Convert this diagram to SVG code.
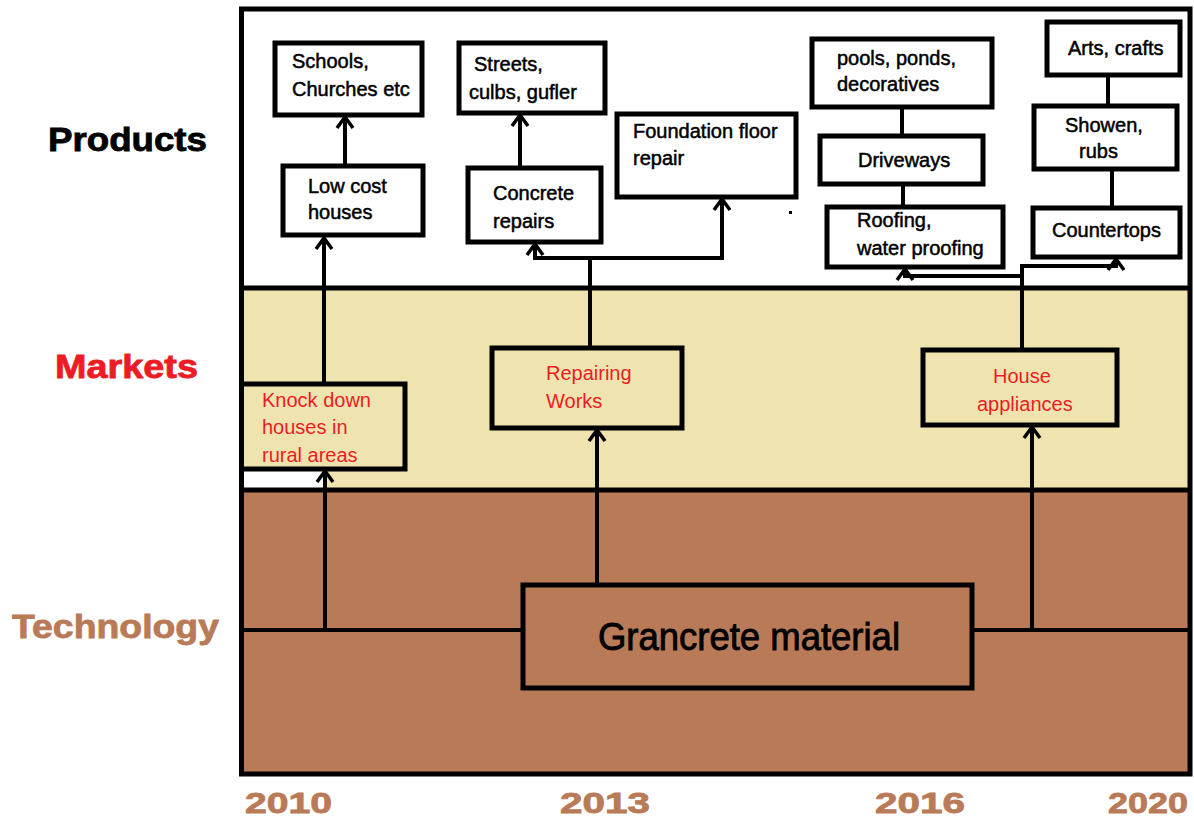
<svg xmlns="http://www.w3.org/2000/svg" width="1194" height="822" viewBox="0 0 1194 822">
<style>
.box{stroke:#000;stroke-width:5;}
.pbox{fill:#fff;}
.mbox{fill:#EFE4B0;}
.tbox{fill:#B97A57;}
.conn{fill:none;stroke:#000;stroke-width:4;}
.ptxt{font-family:"Liberation Sans",Arial,sans-serif;font-size:20px;fill:#000;stroke:#000;stroke-width:0.5;}
.mtxt{font-family:"Liberation Sans",Arial,sans-serif;font-size:20px;fill:#ED1C24;}
.lbl{font-family:"Liberation Sans",Arial,sans-serif;font-weight:bold;font-size:33px;stroke-width:0.8;}
.yr{font-family:"Liberation Sans",Arial,sans-serif;font-weight:bold;font-size:29px;fill:#B97A57;stroke:#B97A57;stroke-width:0.8;}
</style>
<defs>
<marker id="chev" markerUnits="userSpaceOnUse" markerWidth="24" markerHeight="24" viewBox="-14 -12 16 24" refX="0" refY="0" orient="auto" style="overflow:visible">
<path d="M-11,-8 L0,0 L-11,8" fill="none" stroke="#000" stroke-width="3.5" stroke-linejoin="miter"/>
</marker>
</defs>
<rect x="0" y="0" width="1194" height="822" fill="#fff"/>
<g id="bands">
<rect x="241.5" y="9" width="948.5" height="279" fill="#fff"/>
<rect x="241.5" y="288" width="948.5" height="202" fill="#EFE4B0"/>
<rect x="241.5" y="490" width="948.5" height="284" fill="#B97A57"/>
<rect x="244" y="471" width="80" height="17" fill="#fff"/>
<rect x="241.5" y="9" width="948.5" height="765" fill="none" stroke="#000" stroke-width="5"/>
<line x1="241.5" y1="288" x2="1190" y2="288" stroke="#000" stroke-width="5"/>
<line x1="241.5" y1="490" x2="1190" y2="490" stroke="#000" stroke-width="5"/>
</g>
<g id="labels">
<text class="lbl" x="48" y="151" textLength="159" lengthAdjust="spacingAndGlyphs" fill="#000" stroke="#000">Products</text>
<text class="lbl" x="55" y="378" textLength="143" lengthAdjust="spacingAndGlyphs" fill="#ED1C24" stroke="#ED1C24">Markets</text>
<text class="lbl" x="12" y="638" textLength="207" lengthAdjust="spacingAndGlyphs" fill="#B97A57" stroke="#B97A57">Technology</text>
<text class="yr" x="245" y="813" textLength="87" lengthAdjust="spacingAndGlyphs">2010</text>
<text class="yr" x="560" y="813" textLength="90" lengthAdjust="spacingAndGlyphs">2013</text>
<text class="yr" x="875" y="813" textLength="90" lengthAdjust="spacingAndGlyphs">2016</text>
<text class="yr" x="1108" y="813" textLength="80" lengthAdjust="spacingAndGlyphs">2020</text>
</g>
<g id="connectors">
<line class="conn" x1="241.5" y1="630" x2="523" y2="630"/>
<line class="conn" x1="972" y1="630" x2="1190" y2="630"/>
<path class="conn" d="M325,630 L325,471" marker-end="url(#chev)"/>
<path class="conn" d="M597,585 L597,430" marker-end="url(#chev)"/>
<path class="conn" d="M1032,630 L1032,427" marker-end="url(#chev)"/>
<path class="conn" d="M324,384 L324,238" marker-end="url(#chev)"/>
<path class="conn" d="M345,166 L345,117" marker-end="url(#chev)"/>
<path class="conn" d="M520,168 L520,115" marker-end="url(#chev)"/>
<path class="conn" d="M590,348 L590,258 L535,258 L535,244" marker-end="url(#chev)"/>
<path class="conn" d="M590,258 L722,258 L722,199" marker-end="url(#chev)"/>
<path class="conn" d="M1022,350 L1022,276 L905,276 L905,269" marker-end="url(#chev)"/>
<path class="conn" d="M1022,277 L1022,266 L1116,266 L1116,259" marker-end="url(#chev)"/>
<line class="conn" x1="902" y1="107" x2="902" y2="136"/>
<line class="conn" x1="903" y1="184" x2="903" y2="207"/>
<line class="conn" x1="1108" y1="75" x2="1108" y2="106"/>
<line class="conn" x1="1112" y1="169" x2="1112" y2="208"/>
<rect x="789" y="211" width="3" height="3" fill="#000"/>
</g>
<g id="n-schools"><rect class="box pbox" x="275" y="43" width="147" height="72"/><text class="ptxt" x="292" y="68">Schools,</text><text class="ptxt" x="292" y="96">Churches etc</text></g>
<g id="n-lowcost"><rect class="box pbox" x="283" y="166" width="140" height="69"/><text class="ptxt" x="308" y="193">Low cost</text><text class="ptxt" x="308" y="219">houses</text></g>
<g id="n-streets"><rect class="box pbox" x="459" y="43" width="146" height="70"/><text class="ptxt" x="474" y="71">Streets,</text><text class="ptxt" x="469" y="99">culbs, gufler</text></g>
<g id="n-concrete"><rect class="box pbox" x="468" y="168" width="133" height="74"/><text class="ptxt" x="493" y="200">Concrete</text><text class="ptxt" x="493" y="228">repairs</text></g>
<g id="n-foundation"><rect class="box pbox" x="617" y="114" width="179" height="83"/><text class="ptxt" x="633" y="138">Foundation floor</text><text class="ptxt" x="633" y="165">repair</text></g>
<g id="n-pools"><rect class="box pbox" x="812" y="39" width="180" height="68"/><text class="ptxt" x="837" y="65">pools, ponds,</text><text class="ptxt" x="837" y="91">decoratives</text></g>
<g id="n-driveways"><rect class="box pbox" x="820" y="136" width="163" height="48"/><text class="ptxt" x="858" y="167">Driveways</text></g>
<g id="n-roofing"><rect class="box pbox" x="827" y="207" width="176" height="60"/><text class="ptxt" x="857" y="227">Roofing,</text><text class="ptxt" x="857" y="255">water proofing</text></g>
<g id="n-arts"><rect class="box pbox" x="1047" y="22" width="133" height="53"/><text class="ptxt" x="1068" y="55">Arts, crafts</text></g>
<g id="n-showen"><rect class="box pbox" x="1034" y="106" width="143" height="63"/><text class="ptxt" x="1065" y="132">Showen,</text><text class="ptxt" x="1079" y="158">rubs</text></g>
<g id="n-countertops"><rect class="box pbox" x="1033" y="208" width="147" height="49"/><text class="ptxt" x="1052" y="237">Countertops</text></g>
<g id="n-knockdown"><rect class="box mbox" x="241.5" y="384" width="163.5" height="85"/><text class="mtxt" x="262" y="407">Knock down</text><text class="mtxt" x="262" y="434">houses in</text><text class="mtxt" x="262" y="462">rural areas</text></g>
<g id="n-repairing"><rect class="box mbox" x="492" y="348" width="190" height="80"/><text class="mtxt" x="546" y="380">Repairing</text><text class="mtxt" x="546" y="408">Works</text></g>
<g id="n-house"><rect class="box mbox" x="923" y="350" width="194" height="75"/><text class="mtxt" x="993" y="383">House</text><text class="mtxt" x="977" y="411">appliances</text></g>
<g id="n-grancrete"><rect class="box tbox" x="523" y="585" width="449" height="103"/><text x="598" y="650" font-family="'Liberation Sans',Arial,sans-serif" font-size="39" fill="#000" stroke="#000" stroke-width="0.9" textLength="302" lengthAdjust="spacingAndGlyphs">Grancrete material</text></g>
</svg>
